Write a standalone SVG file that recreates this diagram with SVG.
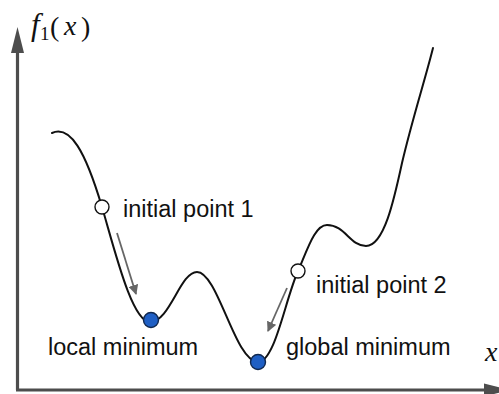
<svg xmlns="http://www.w3.org/2000/svg" width="499" height="394" viewBox="0 0 499 394">
<defs>
<style>
.axis{stroke:#4d4d4d;stroke-width:3.2;fill:none}
.curve{stroke:#111;stroke-width:2;fill:none;stroke-linecap:round}
.step{stroke:#666;stroke-width:1.8;fill:none}
.lbl{font-family:"Liberation Sans",Arial,Helvetica,sans-serif;font-size:23.5px;fill:#111}
.math{font-family:"Liberation Serif","Times New Roman",serif;fill:#111}
.init{fill:#fff;stroke:#111;stroke-width:1.4}
.mini{fill:#1f5fc4;stroke:#10284f;stroke-width:1.4}
</style>
<marker id="ah" viewBox="0 0 10 10" refX="9" refY="5" markerWidth="10" markerHeight="10" markerUnits="userSpaceOnUse" orient="auto">
<path d="M0,0 L10,5 L0,10 z" fill="#666"/>
</marker>
</defs>
<g id="axes">
<path class="axis" d="M17.5,390 V50"/>
<path d="M11,53 L17.5,27 L24,53 z" fill="#4d4d4d"/>
<path class="axis" d="M16,390 H486"/>
<path d="M484,383.5 L510,390 L484,396.5 z" fill="#4d4d4d"/>
<text class="math" font-size="28"><tspan x="31" y="35" font-style="italic" font-size="31">f</tspan><tspan x="40" y="40" font-size="19">1</tspan><tspan x="50" y="36">(</tspan><tspan x="64" y="35" font-style="italic">x</tspan><tspan x="81" y="36">)</tspan></text>
<text class="math" x="485" y="361" font-size="28" font-style="italic">x</text>
</g>
<g id="curve">
<path class="curve" d="M52,133 C70,125 85,150 102,207 C115,251 132,322 150,322 C170,322 180,272 197,272 C218,272 235,362 258,362 C275,362 285,300 298,271 C308,248 315,225 327,225 C345,225 350,246 366,246 C384,246 394,200 402,163 C412,120 425,80 433,48"/>
</g>
<g id="connectors">
<path class="step" d="M117,233 L136,294" marker-end="url(#ah)"/>
<path class="step" d="M287,288 L268,331" marker-end="url(#ah)"/>
</g>
<g id="p1">
<circle class="init" cx="102" cy="207" r="7"/>
<text class="lbl" x="123" y="217">initial point 1</text>
</g>
<g id="p2">
<circle class="init" cx="298" cy="271" r="7"/>
<text class="lbl" x="316" y="293">initial point 2</text>
</g>
<g id="local">
<circle class="mini" cx="151" cy="320" r="7.5"/>
<text class="lbl" x="48" y="355">local minimum</text>
</g>
<g id="global">
<circle class="mini" cx="258" cy="362" r="7.5"/>
<text class="lbl" x="286" y="355">global minimum</text>
</g>
</svg>
